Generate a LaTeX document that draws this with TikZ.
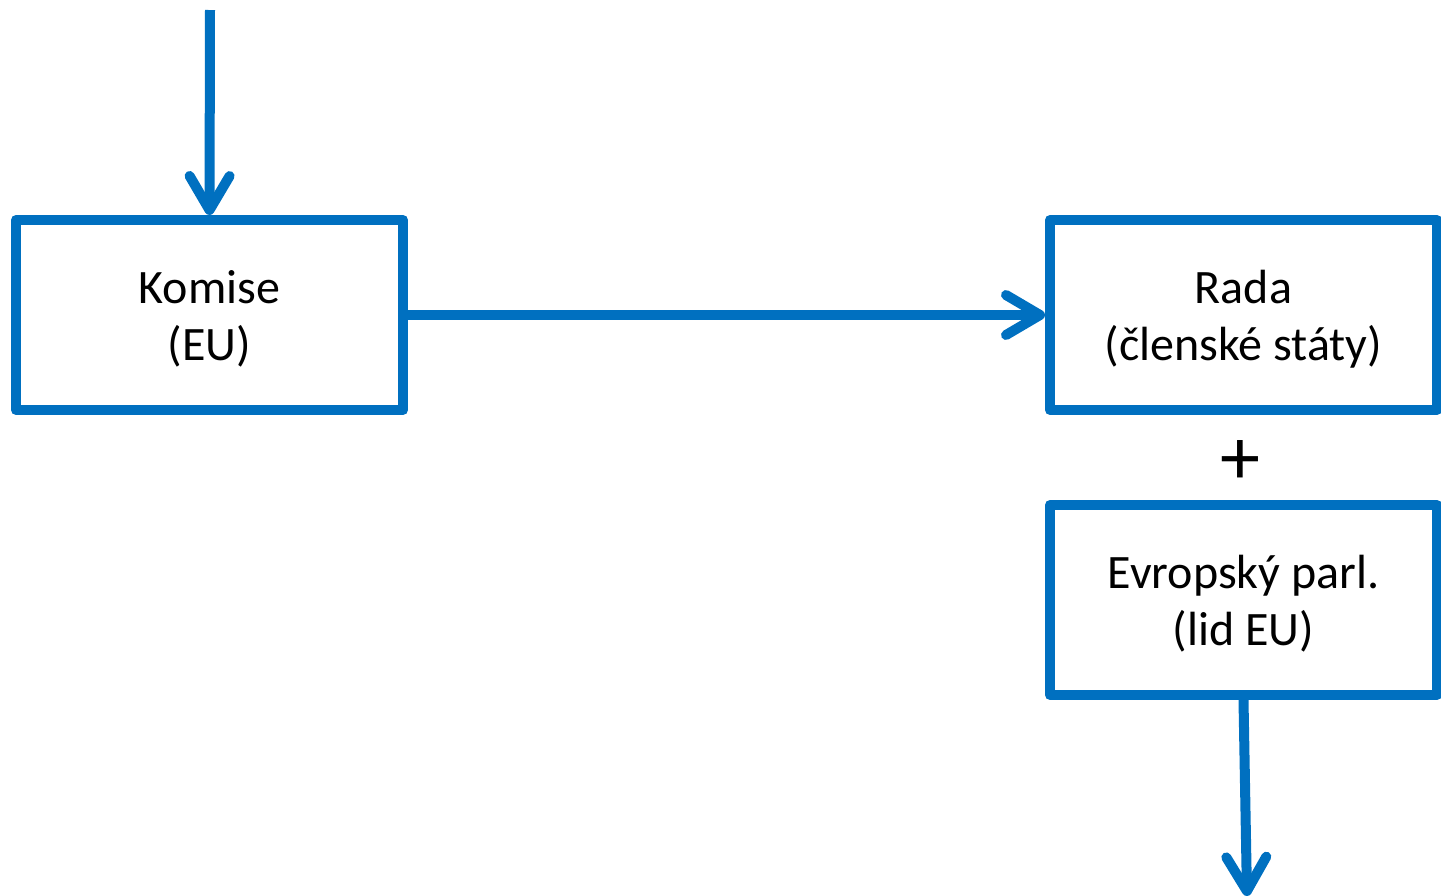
\documentclass[tikz,border=0pt]{standalone}
\usepackage{fontspec}
\setmainfont{Carlito}
\usetikzlibrary{arrows.meta}
\definecolor{eublue}{HTML}{0070C0}
\tikzset{
  box/.style={draw=eublue, line width=10pt, line join=round, rectangle,
    minimum width=387pt, minimum height=190pt, align=center, inner sep=0pt,
    text depth=-3pt, font=\fontsize{48}{57}\selectfont},
  arr/.style={draw=eublue, line width=10pt,
    -{Straight Barb[length=34pt,width=40pt,line cap=round,line join=round]}},
}
\begin{document}
\begin{tikzpicture}[x=1pt,y=-1pt]
\useasboundingbox (0,0) rectangle (1441,895);
\node[box] (komise) at (209.5,315) {Komise\\(EU)};
\node[box] (rada) at (1243.5,315) {Rada\\(členské státy)};
\node[box] (ep) at (1243.5,600) {Evropský parl.\\(lid EU)};
\node[font=\fontsize{80}{80}\selectfont, inner sep=0pt] (plus) at (1240,462) {+};
\coordinate (top) at (210,10);
\coordinate (bot) at (1247,896);
\draw[arr] (top) -- (komise.north);
\draw[arr] (komise.east) -- (rada.west);
\draw[arr] (ep.south) -- (bot);
\end{tikzpicture}
\end{document}
